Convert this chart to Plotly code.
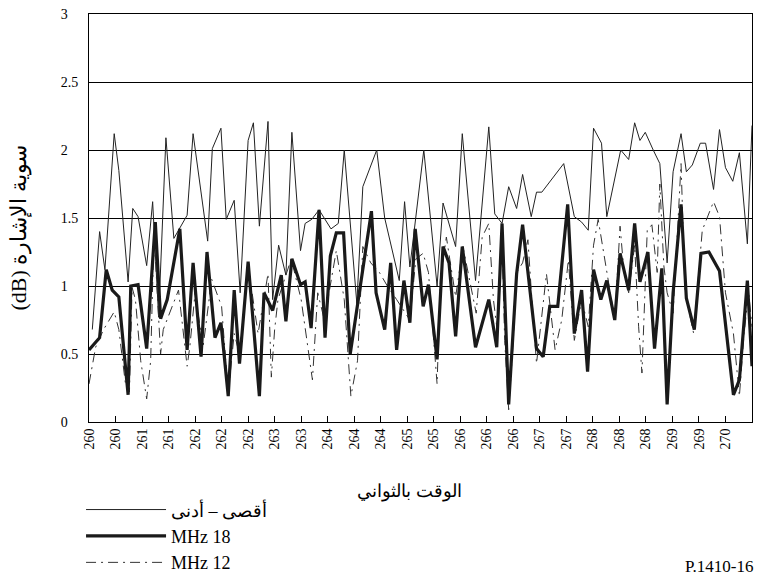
import plotly.graph_objects as go

# ---------------- data ----------------
thin_t = [260.05, 260.16, 260.24, 260.38, 260.45, 260.59, 260.66, 260.74, 260.87, 260.96,
          261.05, 261.16, 261.28, 261.48, 261.57, 261.79, 261.86, 261.99, 262.07, 262.19,
          262.28, 262.40, 262.48, 262.57, 262.70, 262.77, 262.86, 262.97, 263.06, 263.19,
          263.26, 263.36, 263.47, 263.65, 263.76, 263.85, 264.04, 264.13, 264.34, 264.46,
          264.68, 264.76, 264.84, 265.05, 265.25, 265.34, 265.53, 265.63, 265.83, 266.03,
          266.12, 266.23, 266.33, 266.45, 266.54, 266.67, 266.75, 266.83, 267.16, 267.32,
          267.43, 267.53, 267.61, 267.73, 267.81, 267.97, 268.02, 268.14, 268.23, 268.31,
          268.39, 268.51, 268.61, 268.72, 268.81, 268.93, 269.01, 269.10, 269.22, 269.30,
          269.42, 269.51, 269.60, 269.71, 269.81, 269.93, 270.00]
thin_v = [0.68, 1.40, 1.12, 2.12, 1.85, 1.03, 1.57, 1.51, 1.15, 1.62,
          0.77, 2.09, 1.35, 1.52, 2.12, 1.33, 2.01, 2.16, 1.49, 1.63,
          0.95, 2.07, 2.20, 1.44, 2.21, 0.90, 1.30, 1.08, 2.13, 1.26,
          1.46, 1.49, 1.56, 1.42, 1.46, 2.00, 0.87, 1.73, 2.00, 1.50,
          1.04, 1.62, 1.14, 2.00, 1.00, 1.61, 1.29, 2.12, 1.04, 2.17,
          1.53, 1.46, 1.73, 1.57, 1.82, 1.51, 1.69, 1.69, 1.90, 1.51,
          1.47, 1.41, 2.16, 2.05, 1.51, 1.90, 2.00, 1.93, 2.20, 2.07,
          2.13, 2.00, 1.90, 1.17, 1.84, 2.12, 1.84, 1.89, 2.05, 2.05,
          1.71, 2.15, 1.87, 1.77, 1.98, 1.31, 2.18]

f18_t = [260.00, 260.16, 260.26, 260.35, 260.45, 260.59, 260.63, 260.74, 260.87, 261.00,
         261.08, 261.18, 261.37, 261.48, 261.57, 261.69, 261.78, 261.90, 261.99, 262.10,
         262.19, 262.27, 262.40, 262.57, 262.64, 262.77, 262.90, 262.97, 263.06, 263.19,
         263.26, 263.35, 263.47, 263.56, 263.64, 263.73, 263.84, 263.94, 264.26, 264.33,
         264.46, 264.55, 264.64, 264.75, 264.84, 264.92, 265.04, 265.12, 265.25, 265.34,
         265.43, 265.53, 265.63, 265.83, 266.03, 266.15, 266.23, 266.33, 266.45, 266.54,
         266.75, 266.85, 266.95, 267.07, 267.22, 267.32, 267.43, 267.52, 267.61, 267.72,
         267.81, 267.93, 268.01, 268.14, 268.23, 268.31, 268.43, 268.53, 268.64, 268.72,
         268.81, 268.93, 269.01, 269.13, 269.23, 269.35, 269.51, 269.63, 269.72, 269.81,
         269.93, 270.00]
f18_v = [0.53, 0.62, 1.12, 0.97, 0.92, 0.20, 1.00, 1.01, 0.54, 1.47,
         0.76, 0.90, 1.42, 0.53, 1.17, 0.48, 1.25, 0.62, 0.73, 0.19,
         0.97, 0.43, 1.18, 0.19, 0.95, 0.82, 1.08, 0.74, 1.20, 1.01,
         1.03, 0.69, 1.56, 0.62, 1.22, 1.39, 1.39, 0.50, 1.55, 0.95,
         0.68, 1.17, 0.53, 1.04, 0.73, 1.42, 0.85, 1.01, 0.46, 1.29,
         1.17, 0.63, 1.29, 0.55, 0.90, 0.55, 1.46, 0.13, 1.09, 1.45,
         0.54, 0.48, 0.85, 0.85, 1.60, 0.65, 0.97, 0.37, 1.12, 0.90,
         1.04, 0.75, 1.24, 0.97, 1.46, 1.03, 1.25, 0.54, 1.13, 0.13,
         0.95, 1.60, 0.91, 0.68, 1.24, 1.25, 1.11, 0.60, 0.20, 0.31,
         1.04, 0.41]

f12_t = [260.00, 260.10, 260.22, 260.38, 260.45, 260.55, 260.61, 260.65, 260.70, 260.78,
         260.87, 260.93, 260.98, 261.08, 261.12, 261.35, 261.48, 261.52, 261.60, 261.72,
         261.85, 261.92, 262.00, 262.10, 262.19, 262.27, 262.40, 262.55, 262.70, 262.75,
         262.80, 262.85, 262.95, 263.05, 263.20, 263.37, 263.45, 263.55, 263.73, 263.85,
         263.95, 264.05, 264.13, 264.25, 264.38, 264.50, 264.64, 264.75, 264.84, 264.93,
         265.04, 265.12, 265.20, 265.25, 265.30, 265.39, 265.53, 265.64, 265.84, 265.93,
         266.03, 266.10, 266.15, 266.23, 266.27, 266.33, 266.40, 266.45, 266.54, 266.62,
         266.68, 266.75, 266.90, 267.03, 267.13, 267.23, 267.32, 267.43, 267.53, 267.61,
         267.68, 267.78, 267.93, 268.01, 268.07, 268.14, 268.23, 268.29, 268.34, 268.42,
         268.49, 268.57, 268.61, 268.67, 268.72, 268.81, 268.93, 268.99, 269.12, 269.25,
         269.42, 269.51, 269.60, 269.72, 269.81, 269.88, 269.95, 270.00]
f12_v = [0.28, 0.55, 0.68, 0.81, 0.68, 0.28, 0.22, 0.99, 0.90, 0.45,
         0.17, 0.45, 1.39, 0.50, 0.68, 0.97, 0.41, 0.55, 0.95, 0.55,
         1.05, 0.95, 0.85, 0.21, 0.65, 0.50, 1.15, 0.65, 1.09, 0.33,
         0.68, 0.90, 1.05, 1.20, 0.90, 0.31, 0.95, 0.75, 1.26, 0.90,
         0.19, 0.45, 1.29, 1.17, 1.10, 1.00, 0.90, 0.82, 0.75, 1.20,
         1.24, 1.10, 0.60, 0.28, 1.05, 1.36, 0.92, 1.29, 0.80, 1.36,
         1.46, 0.90, 0.70, 1.30, 0.60, 0.09, 0.60, 1.10, 1.17, 1.34,
         0.90, 0.43, 1.09, 0.53, 0.75, 1.19, 0.60, 0.90, 0.70, 1.30,
         1.49, 1.20, 0.75, 1.44, 1.10, 0.95, 1.30, 0.70, 0.36, 1.41,
         1.45, 1.10, 1.75, 1.15, 0.95, 0.80, 1.90, 0.95, 0.65, 1.41,
         1.62, 1.51, 0.95, 0.65, 0.19, 0.65, 0.95, 0.70]

x_tickvals = [260.0, 260.4, 260.8, 261.2, 261.6, 262.0, 262.4, 262.8, 263.2, 263.6,
              264.0, 264.4, 264.8, 265.2, 265.6, 266.0, 266.4, 266.8, 267.2, 267.6,
              268.0, 268.4, 268.8, 269.2, 269.6, 270.0]
x_ticktext = ["260", "260", "261", "261", "262", "262", "262", "263", "263", "264",
              "264", "264", "265", "265", "266", "266", "266", "267", "267", "268",
              "268", "268", "269", "269", "270", "270"]
y_tickvals = [0, 0.5, 1, 1.5, 2, 2.5, 3]
y_ticktext = ["0\u2008\u2007", "0.5", "1\u2008\u2007", "1.5", "2\u2008\u2007", "2.5", "3\u2008\u2007"]

series_names = ["أقصى – أدنى", "MHz 18", "MHz 12"]
x_title = "الوقت بالثواني"
y_title = "(dB) سوية الإشارة"
fig_id = "P.1410-16"

SERIF = "Liberation Serif"

fig = go.Figure()
fig.add_trace(go.Scatter(x=thin_t, y=thin_v, mode="lines", name=series_names[0],
                         line=dict(color="#222222", width=1), legendrank=1))
fig.add_trace(go.Scatter(x=f12_t, y=f12_v, mode="lines", name=series_names[2],
                         line=dict(color="#333333", width=1, dash="10px,5px,2px,5px"),
                         legendrank=3))
fig.add_trace(go.Scatter(x=f18_t, y=f18_v, mode="lines", name=series_names[1],
                         line=dict(color="#1a1a1a", width=3.2), legendrank=2))

fig.update_layout(
    width=758, height=578,
    margin=dict(l=89, r=6, t=14, b=156, autoexpand=False),
    paper_bgcolor="white", plot_bgcolor="white",
    font=dict(family=SERIF, color="black", size=14),
    showlegend=True,
    legend=dict(x=-0.012, y=-0.17, xanchor="left", yanchor="top",
                itemwidth=80, font=dict(size=18, family=SERIF),
                bgcolor="rgba(0,0,0,0)", tracegroupgap=0, itemclick=False),
    xaxis=dict(range=[260, 270], tickmode="array", tickvals=x_tickvals,
               ticktext=x_ticktext, tickangle=-90, ticks="inside", ticklen=6,
               tickcolor="black", showgrid=False, zeroline=False,
               showline=True, linecolor="black", linewidth=1, mirror=True,
               tickfont=dict(size=14, family=SERIF)),
    yaxis=dict(range=[0, 3], tickmode="array", tickvals=y_tickvals,
               ticktext=y_ticktext, ticks="", showgrid=True, gridcolor="black",
               gridwidth=1, zeroline=False, showline=True, linecolor="black",
               linewidth=1, mirror=True, ticklabelstandoff=7,
               tickfont=dict(size=14, family=SERIF)),
    annotations=[
        dict(text=x_title, xref="paper", yref="paper", x=0.484, y=-0.17,
             showarrow=False, xanchor="center", yanchor="middle",
             font=dict(size=18, family=SERIF)),
        dict(text=y_title, xref="paper", yref="paper", x=-0.105, y=0.475,
             showarrow=False, xanchor="center", yanchor="middle", textangle=-90,
             font=dict(size=22, family=SERIF)),
        dict(text=fig_id, xref="paper", yref="paper", x=0.8955, y=-0.353,
             showarrow=False, xanchor="left", yanchor="middle",
             font=dict(size=17, family=SERIF)),
    ],
)

fig.write_html("out.html")
